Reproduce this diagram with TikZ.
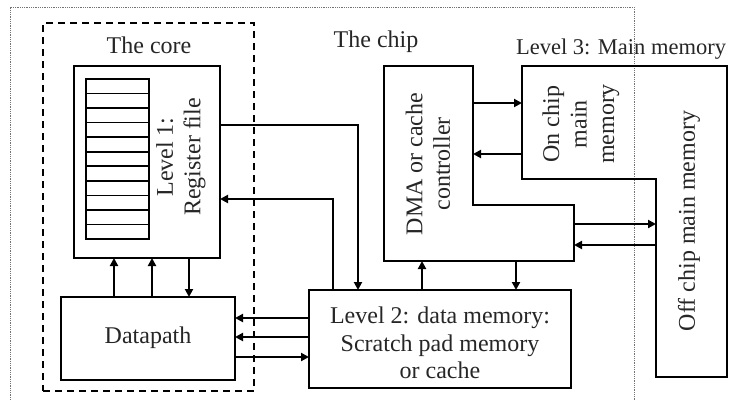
\documentclass[tikz,border=0pt]{standalone}
\usepackage{fontspec}
\setmainfont{Liberation Serif}
\usetikzlibrary{arrows.meta}
\begin{document}
\begin{tikzpicture}[x=1pt,y=-1pt,
  box/.style={draw, line width=1.8pt, inner sep=0pt, outer sep=0pt},
  lbl/.style={font=\fontsize{24}{27.5}\selectfont, align=center, inner sep=0pt, text=black!85},
  arr/.style={line width=2pt, -{Triangle[length=8pt,width=8pt]}},
  chipline/.style={draw=black!55, line width=0.8pt, dash pattern=on 1pt off 0.8pt},
  corebox/.style={draw, line width=1.8pt, dash pattern=on 7pt off 5pt, inner sep=0pt}]
\useasboundingbox (0,0) rectangle (744,400);

% chip boundary (dotted, open at bottom)
\draw[chipline] (10,400) -- (10,7) -- (634,7) -- (634,400);
% core boundary
\node[corebox, minimum width=211, minimum height=368] (core) at (148.5,207) {};

% labels
\node[lbl, anchor=base] (tcore) at (149,53) {The core};
\node[lbl, anchor=base] (tchip) at (376,47) {The chip};
\node[lbl, anchor=base, font=\fontsize{22.5}{26}\selectfont] (tl3) at (621,54) {Level 3: Main memory};

% register file
\node[box, minimum width=146, minimum height=192] (rf) at (147,162) {};
\node[box, minimum width=63, minimum height=160] (regs) at (117.5,159) {};
\foreach \i in {1,...,10} {
  \draw[line width=1.6pt] (86,{79+\i*160/11}) -- (149,{79+\i*160/11});
}
\node[lbl, rotate=90] (trf) at (181,157) {Level 1:\\Register file};

% datapath
\node[box, minimum width=174, minimum height=83] (dp) at (148,338.5) {};
\node[lbl] (tdp) at (148,338) {Datapath};

% level 2
\node[box, minimum width=262, minimum height=98] (l2) at (440,339) {};
\node[lbl] (tl2) at (440,343) {Level 2: data memory:\\Scratch pad memory\\or cache};

% DMA (L-shape)
\coordinate (dmaTL) at (384,66);
\coordinate (dmaTR) at (473,66);
\coordinate (dmaSR) at (574,205);
\coordinate (dmaBL) at (384,261);
\draw[line width=1.8pt] (dmaTL) -- (dmaTR) -- (dmaTR |- dmaSR) -- (dmaSR) -- (dmaSR |- dmaBL) -- (dmaBL) -- cycle;
\node[lbl, rotate=90] (tdma) at (428,164) {DMA or cache\\controller};

% main memory (L-shape)
\coordinate (memTL) at (522,66);
\coordinate (memTR) at (727,66);
\coordinate (memBR) at (727,377);
\coordinate (offTL) at (656,179);
\draw[line width=1.8pt] (memTL) -- (memTR) -- (memBR) -- (offTL |- memBR) -- (offTL) -- (memTL |- offTL) -- cycle;
\node[lbl, rotate=90] (ton) at (581,124) {On chip\\main\\memory};
\node[lbl, rotate=90] (toff) at (689,221) {Off chip main memory};

% datapath <-> register file
\draw[arr] (dp.north -| 114,0) -- (rf.south -| 114,0);
\draw[arr] (dp.north -| 152,0) -- (rf.south -| 152,0);
\draw[arr] (rf.south -| 189,0) -- (dp.north -| 189,0);

% register file <-> level 2
\draw[arr] (rf.east |- 0,125) -| (l2.north -| 358,0);
\draw[arr] (l2.north -| 333,0) |- (rf.east |- 0,199);

% level 2 <-> datapath
\draw[arr] (l2.west |- 0,318) -- (dp.east |- 0,318);
\draw[arr] (l2.west |- 0,337) -- (dp.east |- 0,337);
\draw[arr] (dp.east |- 0,357) -- (l2.west |- 0,357);

% level 2 <-> DMA
\draw[arr] (l2.north -| 422,0) -- (dmaBL -| 422,0);
\draw[arr] (dmaBL -| 516,0) -- (l2.north -| 516,0);

% DMA <-> on chip memory
\draw[arr] (dmaTR |- 0,103) -- (memTL |- 0,103);
\draw[arr] (memTL |- 0,154) -- (dmaTR |- 0,154);

% DMA <-> off chip memory
\draw[arr] (dmaSR |- 0,224) -- (offTL |- 0,224);
\draw[arr] (offTL |- 0,245) -- (dmaSR |- 0,245);
\end{tikzpicture}
\end{document}
